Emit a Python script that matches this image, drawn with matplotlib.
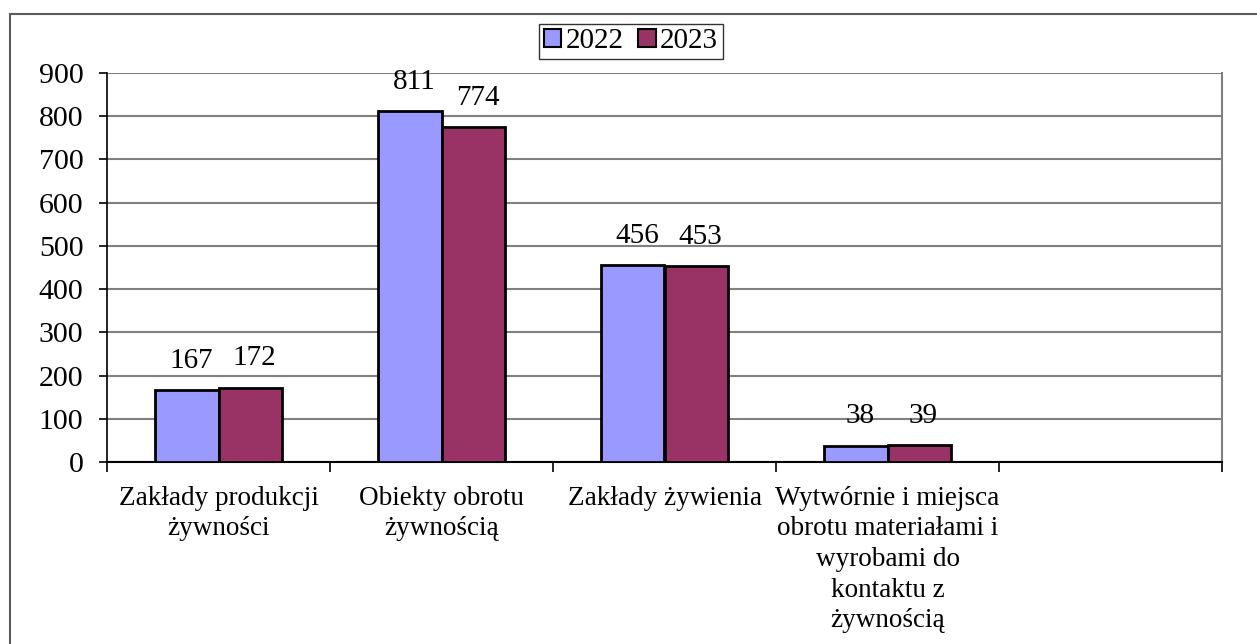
import matplotlib.pyplot as plt
from matplotlib.patches import Rectangle, Patch
import numpy as np

categories = [
    "Zakłady produkcji\nżywności",
    "Obiekty obrotu\nżywnością",
    "Zakłady żywienia",
    "Wytwórnie i miejsca\nobrotu materiałami i\nwyrobami do\nkontaktu z\nżywnością",
    "",
]
values_2022 = [167, 811, 456, 38]
values_2023 = [172, 774, 453, 39]
series_labels = ["2022", "2023"]
colors = ["#9999FF", "#993366"]

plt.rcParams['font.family'] = ['Liberation Serif', 'DejaVu Serif']

fig = plt.figure(figsize=(12.57, 6.44), dpi=100)
W, H = 1257, 644
ax = fig.add_axes([107 / W, 1 - 462 / H, (1222 - 107) / W, (462 - 73) / H])

# obramowanie całego wykresu
fig.patches.append(Rectangle((9.5 / W, -0.2), 1.5, 1 - 14 / H + 0.2,
                             transform=fig.transFigure, fill=False,
                             edgecolor="#5a5a5a", linewidth=1.5))

bw = 0.285
x = np.arange(len(values_2022))
bars1 = ax.bar(x - bw / 2, values_2022, bw, color=colors[0],
               edgecolor="black", linewidth=2, zorder=3)
bars2 = ax.bar(x + bw / 2, values_2023, bw, color=colors[1],
               edgecolor="black", linewidth=2, zorder=3)

for bars in (bars1, bars2):
    for b in bars:
        ax.annotate(str(int(b.get_height())),
                    (b.get_x() + b.get_width() / 2, b.get_height()),
                    xytext=(3, 16), textcoords="offset points",
                    ha="center", va="baseline", fontsize=21)

ax.set_xlim(-0.5, len(categories) - 0.5)
ax.set_ylim(0, 900)
ax.set_yticks(range(0, 901, 100))
ax.tick_params(axis="y", labelsize=21.5, direction="out", length=6, width=1.2, pad=11)

ax.set_xticks(np.arange(len(categories)))
ax.set_xticklabels(categories, fontsize=19.5, linespacing=1.3)
ax.set_xticks(np.arange(len(categories) + 1) - 0.5, minor=True)
ax.tick_params(axis="x", which="major", length=0, pad=17)
ax.tick_params(axis="x", which="minor", length=7, width=1.2, direction="out")

ax.grid(axis="y", color="#808080", linewidth=1.5, zorder=0)
ax.spines["top"].set_visible(False)
ax.spines["right"].set_color("#808080")
ax.spines["right"].set_linewidth(1.5)
ax.spines["left"].set_linewidth(1.2)
ax.spines["bottom"].set_linewidth(1.5)

handles = [Patch(facecolor=c, edgecolor="black", linewidth=1.5) for c in colors]
leg = fig.legend(handles, series_labels, loc="center", bbox_to_anchor=(631 / W, 1 - 41.5 / H),
                 ncol=2, fontsize=21, frameon=True, fancybox=False,
                 handlelength=0.6, handleheight=0.6, handletextpad=0.15,
                 columnspacing=0.5, borderpad=0.15, borderaxespad=0)
leg.get_frame().set_edgecolor("black")
leg.get_frame().set_linewidth(1.0)

fig.savefig("out.png", dpi=100)
